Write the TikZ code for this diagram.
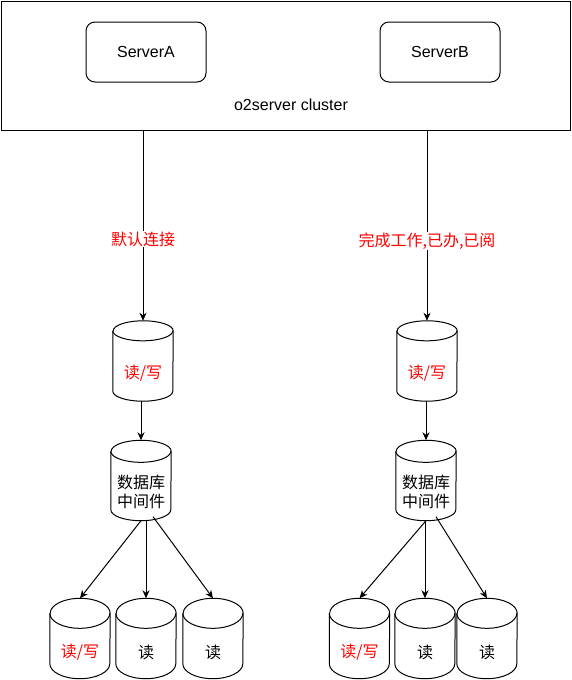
\documentclass[tikz,border=0pt]{standalone}
\usepackage{fontspec}
\setmainfont{Liberation Sans}
\newfontfamily\cjk{Noto Sans CJK SC}
\usetikzlibrary{arrows.meta}

\tikzset{
  every node/.style={font=\fontsize{16pt}{19pt}\selectfont},
  server/.style={draw, line width=1pt, rounded corners=9pt, minimum width=120pt, minimum height=60pt, inner sep=0pt},
  dbbox/.style={minimum width=60pt, minimum height=80pt, inner sep=0pt},
  dbtext/.style={font=\cjk\fontsize{16pt}{19pt}\selectfont, align=center, inner sep=0pt},
  edgelab/.style={font=\cjk\fontsize{16pt}{19pt}\selectfont, text=red, fill=white, inner sep=1pt},
  conn/.style={line width=1pt, -{Stealth[length=8pt, width=7pt, inset=2.5pt]}}
}

% cylinder drawn round a named box, #2 = half height of the cap
\newcommand{\cyl}[2]{%
  \draw[line width=1pt] ([yshift=-#2pt]#1.north west) -- ([yshift=#2pt]#1.south west)
    arc[start angle=180, end angle=360, x radius=30pt, y radius=#2pt]
    -- ([yshift=-#2pt]#1.north east)
    arc[start angle=0, end angle=180, x radius=30pt, y radius=#2pt];
  \draw[line width=1pt] ([yshift=-#2pt]#1.north west)
    arc[start angle=180, end angle=360, x radius=30pt, y radius=#2pt];}

\begin{document}
\begin{tikzpicture}[x=1pt, y=1pt]
  \useasboundingbox (0,0) rectangle (571,-680);
  % cluster with the two servers
  \node[draw, line width=1pt, minimum width=569pt, minimum height=129pt, inner sep=0pt] (cluster) at (285.5,-65.5) {};
  \node (clusterlab) at (291,-105) {o2server cluster};
  \node[server] (srvA) at (146,-52) {ServerA};
  \node[server] (srvB) at (440,-52) {ServerB};

  % left side
  \node[dbbox] (dbA) at (143,-361) {};
  \node[dbbox] (mwA) at (141,-480.5) {};
  \node[dbbox] (rA1) at (80,-638.5) {};
  \node[dbbox] (rA2) at (146,-638.5) {};
  \node[dbbox] (rA3) at (213,-638.5) {};
  \cyl{dbA}{10} \cyl{mwA}{11}
  \cyl{rA1}{15} \cyl{rA2}{15} \cyl{rA3}{15}
  \node[dbtext, text=red] (dbAtxt) at ([yshift=-12pt]dbA.center) {读/写};
  \node[dbtext] (mwAtxt) at ([yshift=-11pt]mwA.center) {数据库\\中间件};
  \node[dbtext, text=red] (rA1txt) at ([yshift=-14pt]rA1.center) {读/写};
  \node[dbtext] (rA2txt) at ([yshift=-14pt]rA2.center) {读};
  \node[dbtext] (rA3txt) at ([yshift=-14pt]rA3.center) {读};

  % right side
  \node[dbbox] (dbB) at (427,-361) {};
  \node[dbbox] (mwB) at (426,-480.5) {};
  \node[dbbox] (rB1) at (359.5,-638.5) {};
  \node[dbbox] (rB2) at (425,-638.5) {};
  \node[dbbox] (rB3) at (487,-638.5) {};
  \cyl{dbB}{10} \cyl{mwB}{11}
  \cyl{rB1}{15} \cyl{rB2}{15} \cyl{rB3}{15}
  \node[dbtext, text=red] (dbBtxt) at ([yshift=-12pt]dbB.center) {读/写};
  \node[dbtext] (mwBtxt) at ([yshift=-11pt]mwB.center) {数据库\\中间件};
  \node[dbtext, text=red] (rB1txt) at ([yshift=-14pt]rB1.center) {读/写};
  \node[dbtext] (rB2txt) at ([yshift=-14pt]rB2.center) {读};
  \node[dbtext] (rB3txt) at ([yshift=-14pt]rB3.center) {读};

  % connectors
  \draw[conn] (dbA.north |- cluster.south) -- node[edgelab, pos=.57] (labA) {默认连接} (dbA.north);
  \draw[conn] (dbB.north |- cluster.south) -- node[edgelab, pos=.58] (labB) {完成工作,已办,已阅} (dbB.north);
  \draw[conn] (mwA.north |- dbA.south) -- (mwA.north);
  \draw[conn] (mwB.north |- dbB.south) -- (mwB.north);
  \draw[conn] (mwA.south) -- (rA1.north);
  \draw[conn] (rA2.north |- mwA.south) -- (rA2.north);
  \draw[conn] ([xshift=12pt, yshift=4pt]mwA.south) -- (rA3.north);
  \draw[conn] (mwB.south) -- (rB1.north);
  \draw[conn] (rB2.north |- mwB.south) -- (rB2.north);
  \draw[conn] ([xshift=10pt, yshift=4pt]mwB.south) -- (rB3.north);
\end{tikzpicture}
\end{document}
